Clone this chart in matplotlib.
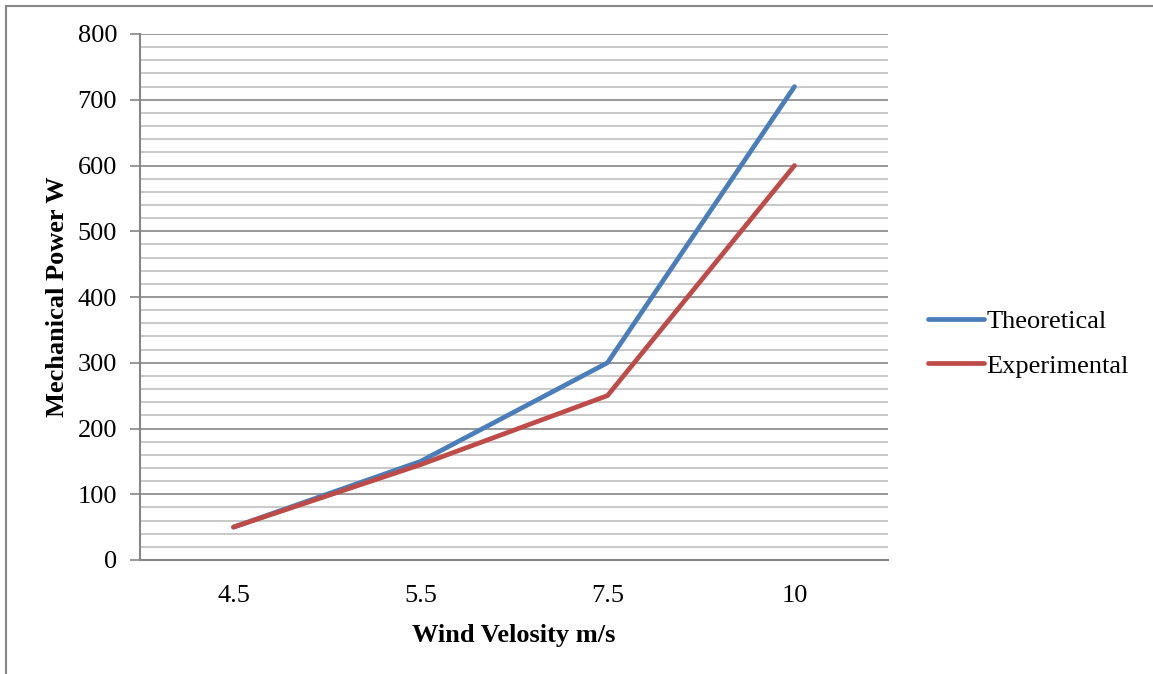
import matplotlib
matplotlib.use("Agg")
from matplotlib import pyplot as plt
from matplotlib.patches import Rectangle
from matplotlib.ticker import MultipleLocator

# data
velocity = ["4.5", "5.5", "7.5", "10"]
theoretical = [50, 150, 300, 720]
experimental = [50, 145, 250, 600]

plt.rcParams['font.family'] = ['Liberation Serif', 'DejaVu Serif']

W, H = 1153, 674
fig = plt.figure(figsize=(W / 100, H / 100), dpi=100)
ax = fig.add_axes([140 / W, 1 - 560 / H, (888 - 140) / W, (560 - 34) / H])

x = range(len(velocity))
ax.plot(x, theoretical, color="#4A7EBB", lw=3.4, solid_capstyle="round",
        solid_joinstyle="miter", label="Theoretical", zorder=3)
ax.plot(x, experimental, color="#BE4B48", lw=3.4, solid_capstyle="round",
        solid_joinstyle="miter", label="Experimental", zorder=3)

ax.set_xlim(-0.5, len(velocity) - 0.5)
ax.set_ylim(0, 800)
ax.set_xticks(list(x))
ax.set_xticklabels(velocity)
ax.yaxis.set_major_locator(MultipleLocator(100))
ax.yaxis.set_minor_locator(MultipleLocator(20))

ax.grid(axis="y", which="major", color="#868686", lw=1.2, zorder=0)
ax.grid(axis="y", which="minor", color="#C0C0C0", lw=1.2, zorder=0)
ax.set_axisbelow(True)

for s in ["top", "right"]:
    ax.spines[s].set_visible(False)
for s in ["left", "bottom"]:
    ax.spines[s].set_color("#868686")
    ax.spines[s].set_linewidth(1.5)

ax.tick_params(axis="y", which="major", length=7, width=1.2, color="#868686",
               labelsize=19, pad=9.5)
ax.tick_params(axis="y", which="minor", length=0)
ax.tick_params(axis="x", length=0, labelsize=19, pad=18)

ax.set_xlabel("Wind Velosity m/s", fontsize=19, fontweight="bold", labelpad=12)
ax.set_ylabel("Mechanical Power W", fontsize=19, fontweight="bold", labelpad=6)

leg = ax.legend(loc="center left", bbox_to_anchor=(1.04, 0.4115), frameon=False,
                fontsize=19, handlelength=2.1, handletextpad=0.1,
                labelspacing=0.8, borderaxespad=0)

# outer chart frame (only top and left visible in the crop)
fig.patches.append(Rectangle((5.5 / W, -0.1), 1.2, 1 - 5.5 / H + 0.1,
                             transform=fig.transFigure, fill=False,
                             edgecolor="#868686", lw=1.5))

plt.savefig("out.png", dpi=100)
